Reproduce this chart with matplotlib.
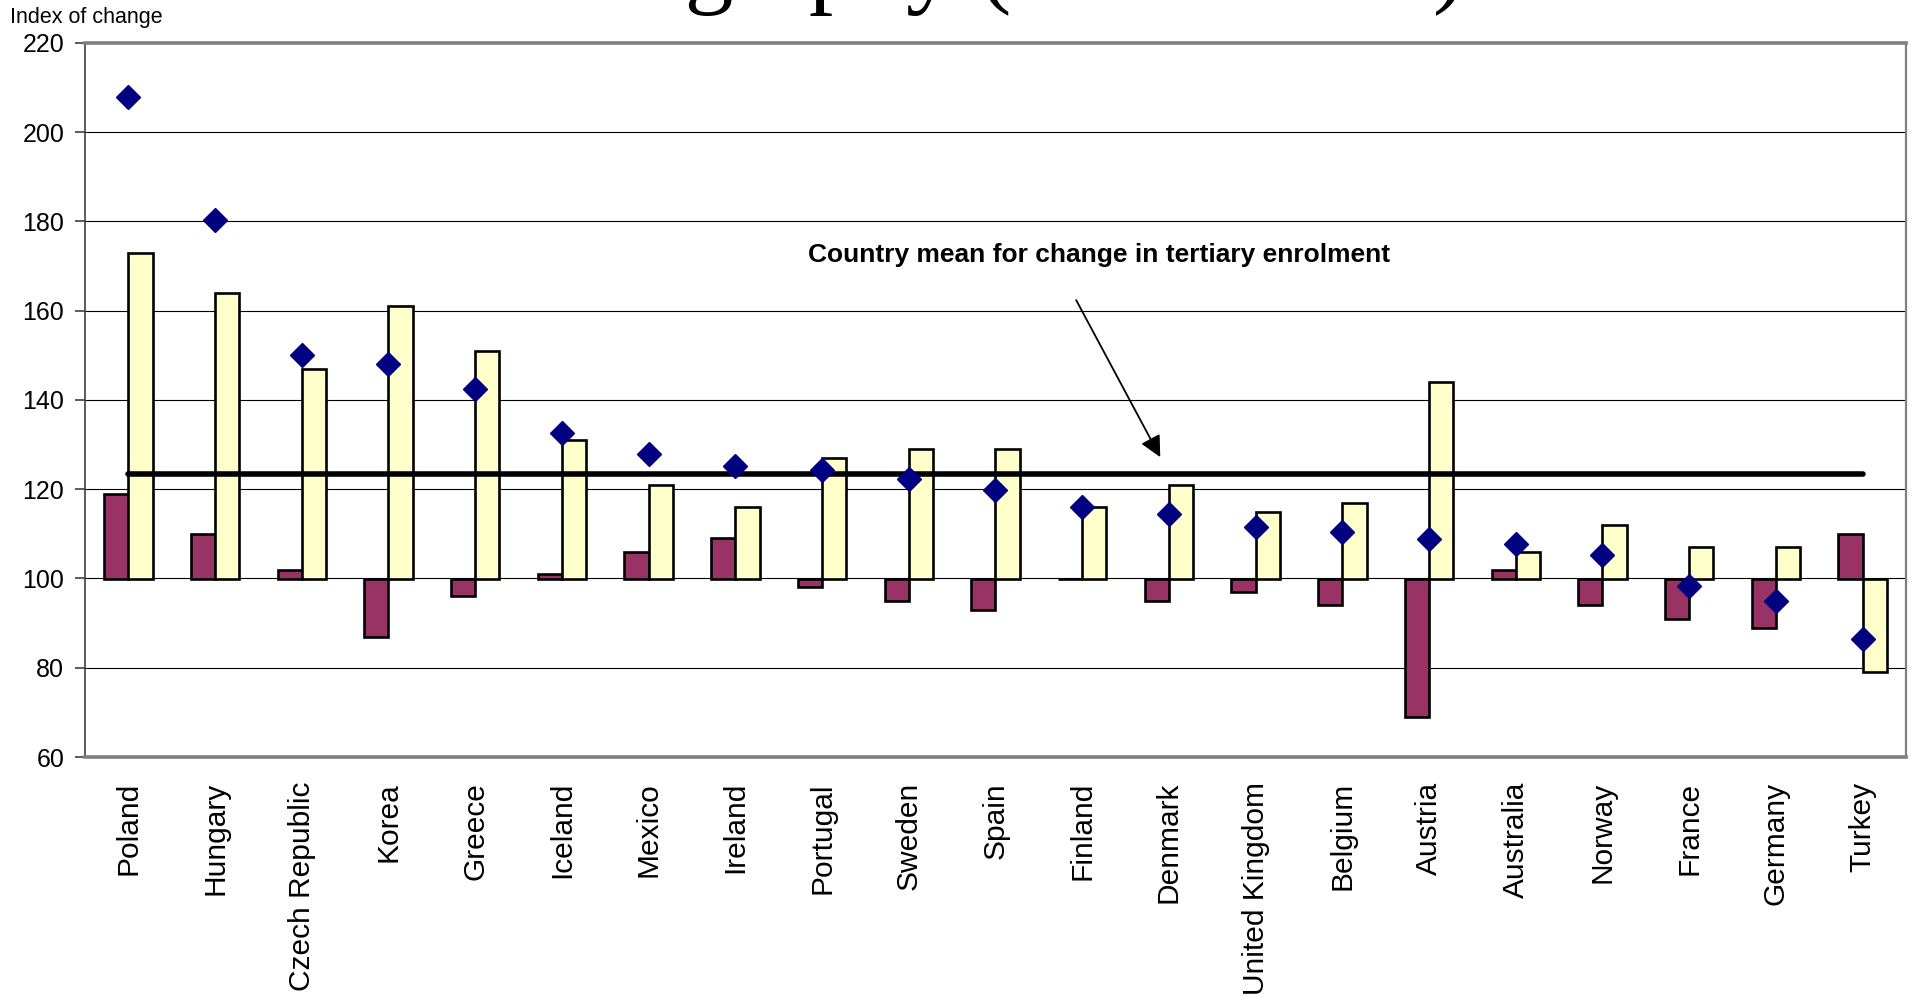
import matplotlib.pyplot as plt
import numpy as np

countries = ['Poland', 'Hungary', 'Czech Republic', 'Korea', 'Greece', 'Iceland',
             'Mexico', 'Ireland', 'Portugal', 'Sweden', 'Spain', 'Finland', 'Denmark',
             'United Kingdom', 'Belgium', 'Austria', 'Australia', 'Norway', 'France',
             'Germany', 'Turkey']

# index of change, base = 100
demography = [119, 110, 102, 87, 96, 101, 106, 109, 98, 95, 93, 100, 95, 97, 94,
              69, 102, 94, 91, 89, 110]
enrolment = [173, 164, 147, 161, 151, 131, 121, 116, 127, 129, 129, 116, 121, 115,
             117, 144, 106, 112, 107, 107, 79]
diamonds = [208, 180.3, 150, 148, 142.5, 132.6, 128, 125.2, 124.3, 122.3, 119.8,
            116.1, 114.5, 111.5, 110.4, 108.9, 107.8, 105.2, 98.3, 95, 86.4]
mean_change = 123.5

yticks = [60, 80, 100, 120, 140, 160, 180, 200, 220]

x = np.arange(len(countries))
w = 0.28
base = 100

fig = plt.figure(figsize=(19.12, 9.97), dpi=100)
ax = fig.add_axes([85 / 1912, 1 - 757 / 997, 1821 / 1912, 714 / 997])

ax.set_ylim(60, 220)
ax.set_xlim(-0.5, len(countries) - 0.5)
ax.set_yticks(yticks)
ax.yaxis.grid(True, color='black', lw=0.8)
ax.set_axisbelow(True)

ax.bar(x - w / 2, np.array(demography) - base, w, bottom=base,
       color='#993366', edgecolor='black', lw=1.9, zorder=2)
ax.bar(x + w / 2, np.array(enrolment) - base, w, bottom=base,
       color='#FFFFCC', edgecolor='black', lw=1.9, zorder=2)

# mean line across all countries
ax.plot([x[0], x[-1]], [mean_change, mean_change], color='black', lw=4,
        solid_capstyle='round', zorder=3)

ax.plot(x, diamonds, 'D', color='#000080', ms=12.5, zorder=4)

ax.annotate('', xy=(11.90, 127.2), xytext=(10.93, 162.4),
            arrowprops=dict(arrowstyle='-|>', color='black', lw=1.3,
                            mutation_scale=32, shrinkA=0, shrinkB=0), zorder=5)
ax.text(11.2, 172.5, 'Country mean for change in tertiary enrolment',
        ha='center', va='center', fontsize=19, fontweight='bold',
        family='Liberation Sans', zorder=5)

ax.set_xticks(x)
ax.set_xticklabels(countries, rotation=90, fontsize=21.5, family='Liberation Sans',
                   va='top')
ax.tick_params(axis='x', length=0, pad=18)
ax.tick_params(axis='y', length=7, width=1.2, pad=8, color='#404040')
for lab in ax.get_yticklabels():
    lab.set_family('Liberation Sans')
    lab.set_fontsize(18)

ax.spines['left'].set_color('#404040')
ax.spines['left'].set_linewidth(1.2)
for s in ['top', 'bottom']:
    ax.spines[s].set_color('#808080')
    ax.spines[s].set_linewidth(2.6)
ax.spines['right'].set_color('#808080')
ax.spines['right'].set_linewidth(1.6)

fig.text(10 / 1912, 1 - 18 / 997, 'Index of change', ha='left', va='center',
         fontsize=15.5, family='Liberation Sans')

# big slide title, sits mostly above the canvas
fig.text(0.5, 1.005, 'Demography (1995-2004)', ha='center', va='baseline',
         fontsize=70, family='Liberation Serif')

fig.savefig('out.png', dpi=100)
